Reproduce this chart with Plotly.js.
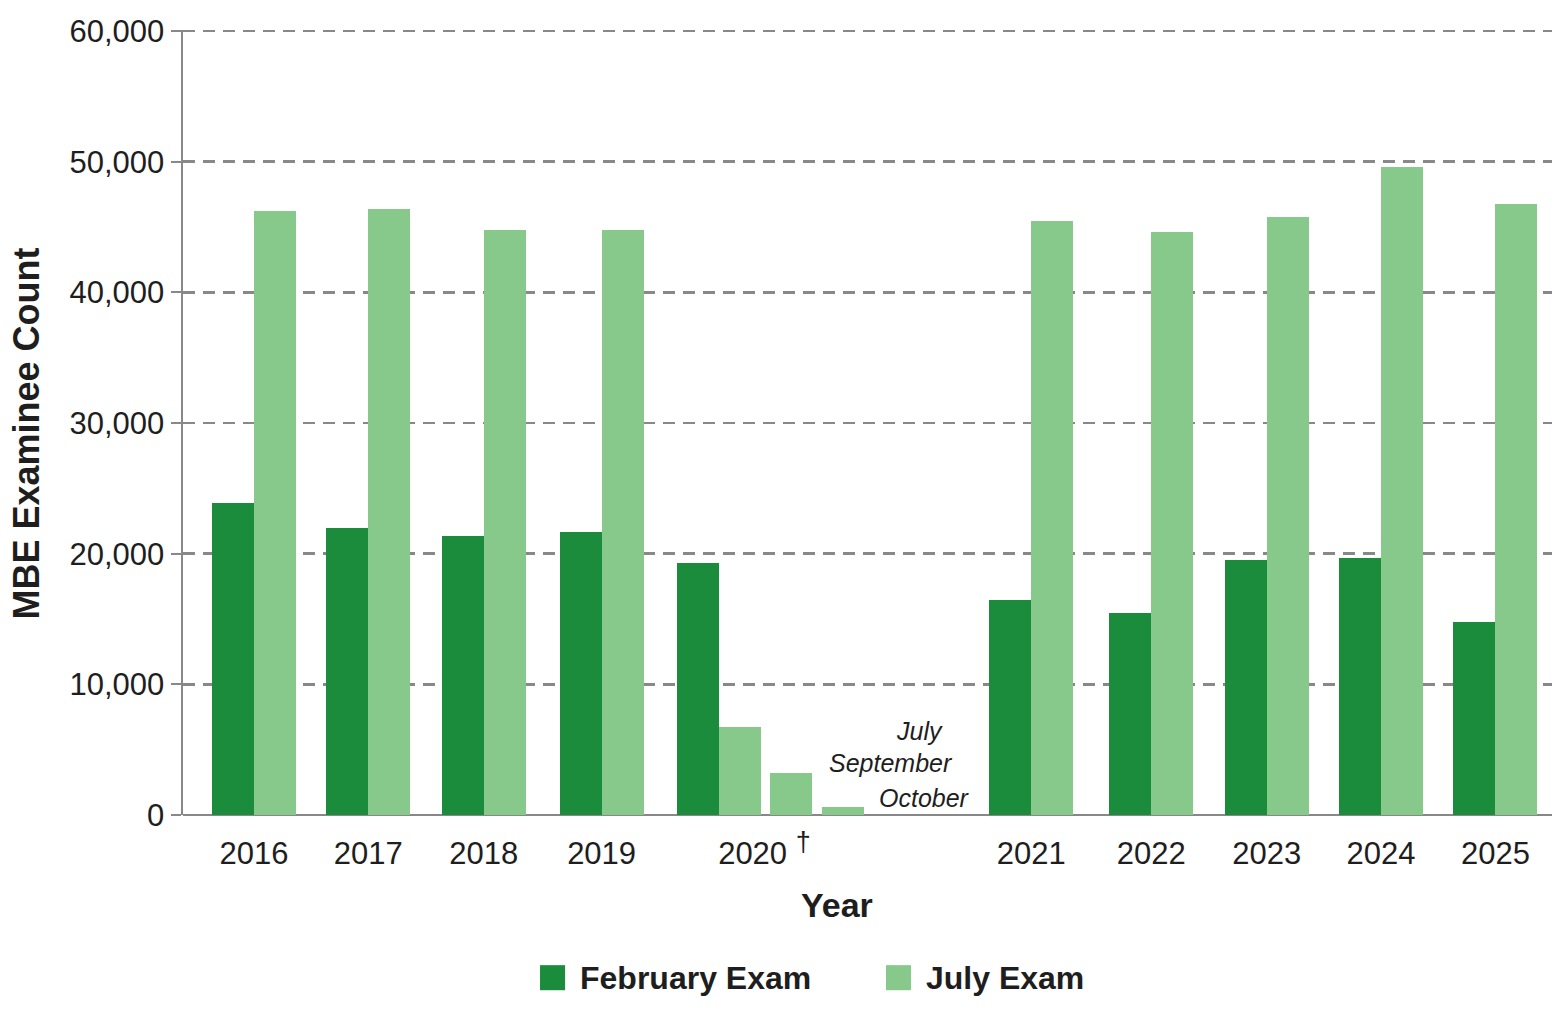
<!DOCTYPE html>
<html>
<head>
<meta charset="utf-8">
<script src="https://cdn.plot.ly/plotly-3.0.1.min.js"></script>
<style>
  html, body { margin: 0; padding: 0; background: #fff; }
  #chart { width: 1563px; height: 1024px; }
</style>
</head>
<body>
<div id="chart"></div>
<script>
// values
const years = ['2016', '2017', '2018', '2019', '2020', '2021', '2022', '2023', '2024', '2025'];
const febCounts = [23900, 21950, 21350, 21650, 19300, 16450, 15450, 19500, 19700, 14800];
const julyCounts = [46200, 46400, 44800, 44800, 6750, 45500, 44600, 45800, 49600, 46800];
const fallLabels = ['September', 'October'];
const fallCounts = [3200, 600];

// layout: where each year group sits on the x axis (2020 gets a wider slot)
const yearPos = [0, 0.99, 1.99, 3.01, 4.03, 6.73, 7.77, 8.77, 9.76, 10.75];
const fallPos = [4.47, 4.92];
const barW = 0.364;
const tickPos = yearPos.slice();
tickPos[4] = 4.42;
const tickText = years.map(y => y === '2020' ? '2020 <sup><span style="font-size:27px">†</span></sup>' : y);

const febColor = '#1a8c3c';
const julyColor = '#86c98a';
const txt = '#1e1e1e';
const gray = '#888888';
const font = 'Liberation Sans, Arial, sans-serif';

var data = [
    {
        type: 'bar', name: 'February Exam', x: yearPos, y: febCounts,
        width: barW, offset: -barW, marker: {color: febColor}, showlegend: false
    },
    {
        type: 'bar', name: 'July Exam', x: yearPos, y: julyCounts,
        width: barW, offset: 0, marker: {color: julyColor}, showlegend: false
    },
    {
        type: 'bar', name: 'July Exam (2020 fall)', x: fallPos, y: fallCounts,
        hovertext: fallLabels,
        width: barW, offset: 0, marker: {color: julyColor}, showlegend: false
    }
];

// little labels next to the 2020 bars
const noteStyle = {family: font, size: 25, color: txt};
var annotations = [
    {x: 5.98, y: 6430, text: '<i>July</i>'},
    {x: 6.07, y: 3980, text: '<i>September</i>'},
    {x: 6.22, y: 1300, text: '<i>October</i>'}
].map(a => Object.assign(a, {xref: 'x', yref: 'y', xanchor: 'right', yanchor: 'middle',
    showarrow: false, font: noteStyle}));

annotations.push({
    xref: 'paper', yref: 'paper', x: 0.478, y: -0.115, text: '<b>Year</b>',
    xanchor: 'center', yanchor: 'middle', showarrow: false,
    font: {family: font, size: 34, color: txt}
});

// y title as an annotation so it can sit a bit low, like the original
annotations.push({
    xref: 'paper', yref: 'paper', x: 0, xshift: -157, y: 0.486,
    text: '<b>MBE Examinee Count</b>', textangle: -90,
    xanchor: 'center', yanchor: 'middle', showarrow: false,
    font: {family: font, size: 36, color: txt}
});

// legend drawn by hand so the swatches can be big
const legendItems = [
    {label: 'February Exam', color: febColor, x0: 0.2608},
    {label: 'July Exam', color: julyColor, x0: 0.5135}
];
var shapes = [];
legendItems.forEach(item => {
    shapes.push({
        type: 'rect', xref: 'paper', yref: 'paper',
        x0: item.x0, x1: item.x0 + 0.0183, y0: -0.2232, y1: -0.1913,
        fillcolor: item.color, line: {width: 0}
    });
    annotations.push({
        xref: 'paper', yref: 'paper', x: item.x0 + 0.0277, y: -0.208,
        text: '<b>' + item.label + '</b>', xanchor: 'left', yanchor: 'middle',
        showarrow: false, font: {family: font, size: 32, color: txt}
    });
});

var layout = {
    width: 1563, height: 1024,
    margin: {l: 183, r: 11, t: 30, b: 209},
    paper_bgcolor: '#fff', plot_bgcolor: '#fff',
    font: {family: font, color: txt},
    bargap: 0,
    xaxis: {
        range: [-0.615, 11.24],
        tickvals: tickPos, ticktext: tickText,
        ticks: '', ticklabelstandoff: 17,
        tickfont: {family: font, size: 31, color: txt},
        showgrid: false, zeroline: false,
        showline: false
    },
    yaxis: {
        range: [0, 60080],
        tickvals: [0, 10000, 20000, 30000, 40000, 50000, 60000],
        tickformat: ',d',
        ticks: 'outside', ticklen: 10, tickwidth: 2, tickcolor: gray,
        tickfont: {family: font, size: 31, color: txt},
        showline: true, linecolor: gray, linewidth: 2.5,
        showgrid: true, gridcolor: gray, gridwidth: 2.5, griddash: '12px,8px',
        zeroline: true, zerolinecolor: gray, zerolinewidth: 2.5
    },
    shapes: shapes,
    annotations: annotations
};

Plotly.newPlot('chart', data, layout, {staticPlot: true});
</script>
</body>
</html>
